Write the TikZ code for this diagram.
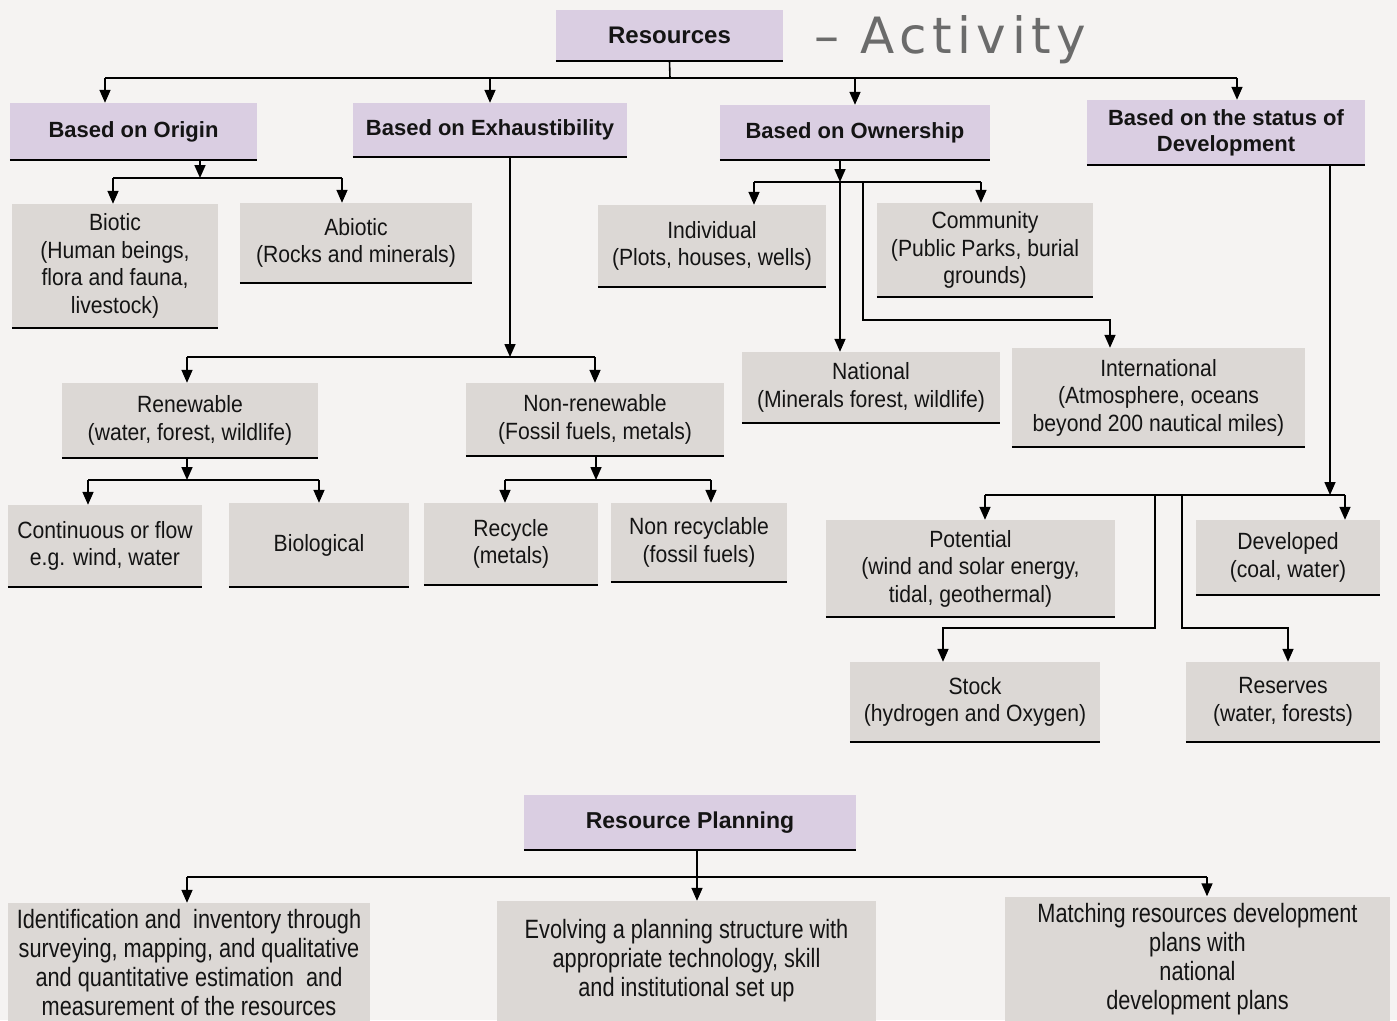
\documentclass[tikz,border=0pt]{standalone}
\usepackage{fontspec}
\setmainfont{Liberation Sans}[FakeStretch=0.9]
\newfontfamily\headfont{Liberation Sans}
\newfontfamily\widefont{Liberation Sans}[FakeStretch=0.82]
\newfontfamily\handfont{DejaVu Sans}[LetterSpace=11]
\usetikzlibrary{arrows.meta}
\definecolor{bg}{HTML}{F5F3F2}
\definecolor{lilac}{HTML}{DACEE2}
\definecolor{boxgray}{HTML}{DCD8D5}
\definecolor{shade}{HTML}{6E6A68}
\tikzset{
  base/.style={inner sep=0pt, align=center, text=black!92},
  pbox/.style={base, fill=lilac, font=\headfont\bfseries\fontsize{22}{26}\selectfont},
  gbox/.style={base, fill=boxgray, font=\fontsize{23.5}{27.5}\selectfont},
  bbox/.style={base, fill=boxgray, font=\widefont\fontsize{26.5}{29}\selectfont},
  arr/.style={-{Triangle[length=13pt,width=11pt]}, line width=1.6pt},
  ln/.style={line width=1.6pt},
  shadowln/.style={shade, line width=2.2pt},
}
\begin{document}
\begin{tikzpicture}[x=1pt,y=-1pt]
\path[fill=bg] (0,0) rectangle (1397,1020);
\useasboundingbox (0,0) rectangle (1397,1020);

% level 0
\node[pbox, font=\headfont\bfseries\fontsize{24}{28}\selectfont, minimum width=227, minimum height=51] (res) at (669.5,35.5) {Resources};
\node[font=\handfont\fontsize{50}{50}\selectfont, text=black!58, anchor=west, inner sep=0pt] (act) at (814,40) {– Activity};

% level 1
\node[pbox, minimum width=247, minimum height=57] (orig) at (133.5,131.5) {Based on Origin};
\node[pbox, minimum width=274, minimum height=54] (exh) at (490,130) {Based on Exhaustibility};
\node[pbox, minimum width=270, minimum height=55] (own) at (855,132.5) {Based on Ownership};
\node[pbox, minimum width=278, minimum height=65] (stat) at (1226,132.5) {Based on the status of\\Development};

% origin
\node[gbox, minimum width=206, minimum height=124] (bio) at (115,266) {Biotic\\(Human beings,\\flora and fauna,\\livestock)};
\node[gbox, minimum width=232, minimum height=80] (abio) at (356,243) {Abiotic\\(Rocks and minerals)};

% ownership
\node[gbox, minimum width=228, minimum height=82] (ind) at (712,246) {Individual\\(Plots, houses, wells)};
\node[gbox, minimum width=216, minimum height=94] (com) at (985,250) {Community\\(Public Parks, burial\\grounds)};
\node[gbox, minimum width=258, minimum height=71] (nat) at (871,387.5) {National\\(Minerals forest, wildlife)};
\node[gbox, minimum width=293, minimum height=99] (int) at (1158.5,397.5) {International\\(Atmosphere, oceans\\beyond 200 nautical miles)};

% exhaustibility
\node[gbox, minimum width=256, minimum height=75] (ren) at (190,420.5) {Renewable\\(water, forest, wildlife)};
\node[gbox, minimum width=258, minimum height=73] (nren) at (595,419.5) {Non-renewable\\(Fossil fuels, metals)};
\node[gbox, minimum width=194, minimum height=82] (cont) at (105,546) {Continuous or flow\\e.g. wind, water};
\node[gbox, minimum width=180, minimum height=84] (biol) at (319,545) {Biological};
\node[gbox, minimum width=174, minimum height=82] (rec) at (511,544) {Recycle\\(metals)};
\node[gbox, minimum width=176, minimum height=79] (nrec) at (699,542.5) {Non recyclable\\(fossil fuels)};

% development
\node[gbox, minimum width=289, minimum height=97] (pot) at (970.5,568.5) {Potential\\(wind and solar energy,\\tidal, geothermal)};
\node[gbox, minimum width=184, minimum height=75] (dev) at (1288,557.5) {Developed\\(coal, water)};
\node[gbox, minimum width=250, minimum height=80] (stock) at (975,702) {Stock\\(hydrogen and Oxygen)};
\node[gbox, minimum width=194, minimum height=80] (resv) at (1283,702) {Reserves\\(water, forests)};

% planning
\node[pbox, font=\headfont\bfseries\fontsize{23}{27}\selectfont, minimum width=332, minimum height=55] (plan) at (690,822.5) {Resource Planning};
\node[bbox, minimum width=362, minimum height=120] (iden) at (189,963) {Identification and\ \ inventory through\\surveying, mapping, and qualitative\\and quantitative estimation\ \ and\\measurement of the resources};
\node[bbox, minimum width=379, minimum height=120] (evol) at (686.5,961) {Evolving a planning structure with\\appropriate technology, skill\\and institutional set up};
\node[bbox, minimum width=385, minimum height=125] (match) at (1197.5,959) {Matching resources development\\plans with\\national\\development plans};

% shadows
\foreach \n in {res,orig,exh,own,stat,bio,abio,ind,com,nat,int,ren,nren,cont,biol,rec,nrec,pot,dev,stock,resv,plan}
  \draw[shadowln] (\n.south west) -- (\n.south east);

% top bus
\coordinate (b1) at (670,78);
\coordinate (b1L) at (105,78);
\coordinate (b1R) at (1237,78);
\draw[ln] (res.south) -- (b1);
\draw[ln] (b1L) -- (b1R);
\draw[arr] (b1L) -- (b1L |- orig.north);
\draw[arr] (exh.north |- b1) -- (exh.north);
\draw[arr] (own.north |- b1) -- (own.north);
\draw[arr] (b1R) -- (b1R |- stat.north);

% origin
\coordinate (o1) at (200,178);
\coordinate (o1L) at (113,178);
\coordinate (o1R) at (342,178);
\draw[arr] (orig.south -| o1) -- (o1);
\draw[ln] (o1L) -- (o1R);
\draw[arr] (o1L) -- (o1L |- bio.north);
\draw[arr] (o1R) -- (o1R |- abio.north);

% exhaustibility
\coordinate (e1) at (510,357);
\coordinate (e1L) at (187,357);
\coordinate (e1R) at (595,357);
\draw[arr] (exh.south -| e1) -- (e1);
\draw[ln] (e1L) -- (e1R);
\draw[arr] (e1L) -- (e1L |- ren.north);
\draw[arr] (e1R) -- (e1R |- nren.north);

\coordinate (r1) at (187,480);
\coordinate (r1L) at (88,480);
\coordinate (r1R) at (319,480);
\draw[arr] (ren.south -| r1) -- (r1);
\draw[ln] (r1L) -- (r1R);
\draw[arr] (r1L) -- (r1L |- cont.north);
\draw[arr] (r1R) -- (r1R |- biol.north);

\coordinate (n1) at (596,480);
\coordinate (n1L) at (505,480);
\coordinate (n1R) at (711,480);
\draw[arr] (nren.south -| n1) -- (n1);
\draw[ln] (n1L) -- (n1R);
\draw[arr] (n1L) -- (n1L |- rec.north);
\draw[arr] (n1R) -- (n1R |- nrec.north);

% ownership
\coordinate (w1) at (840,182);
\coordinate (w1L) at (754,182);
\coordinate (w1R) at (981,182);
\coordinate (w2) at (863,182);
\coordinate (w3) at (863,320);
\coordinate (w4) at (1110,320);
\draw[arr] (own.south -| w1) -- (w1);
\draw[ln] (w1L) -- (w1R);
\draw[arr] (w1L) -- (w1L |- ind.north);
\draw[arr] (w1R) -- (w1R |- com.north);
\draw[arr] (w1) -- (w1 |- nat.north);
\draw[arr] (w2) -- (w3) -- (w4) -- (w4 |- int.north);

% development status
\coordinate (s1) at (1330,495);
\coordinate (s1L) at (985,495);
\coordinate (s1R) at (1345,495);
\coordinate (s2) at (1155,495);
\coordinate (s3) at (1155,628);
\coordinate (s4) at (943,628);
\coordinate (s5) at (1182,495);
\coordinate (s6) at (1182,628);
\coordinate (s7) at (1288,628);
\draw[arr] (stat.south -| s1) -- (s1);
\draw[ln] (s1L) -- (s1R);
\draw[arr] (s1L) -- (s1L |- pot.north);
\draw[arr] (s1R) -- (s1R |- dev.north);
\draw[arr] (s2) -- (s3) -- (s4) -- (s4 |- stock.north);
\draw[arr] (s5) -- (s6) -- (s7) -- (s7 |- resv.north);

% planning
\coordinate (p1) at (697,877);
\coordinate (p1L) at (187,877);
\coordinate (p1R) at (1207,877);
\draw[ln] (plan.south -| p1) -- (p1);
\draw[ln] (p1L) -- (p1R);
\draw[arr] (p1) -- (p1 |- evol.north);
\draw[arr] (p1L) -- (p1L |- iden.north);
\draw[arr] (p1R) -- (p1R |- match.north);
\end{tikzpicture}
\end{document}
